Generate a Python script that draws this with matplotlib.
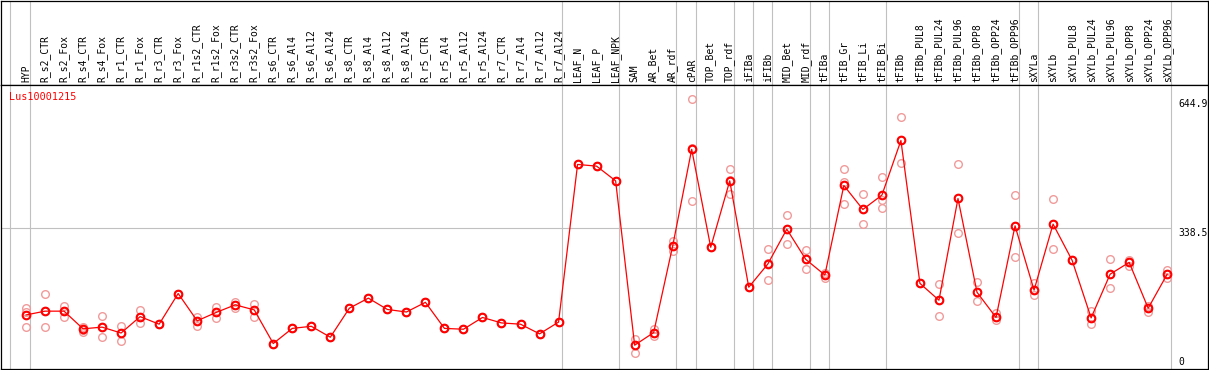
import matplotlib
matplotlib.use('Agg')
import matplotlib.pyplot as plt

# sample labels, left to right
labels = ['HYP', 'R_s2_CTR', 'R_s2_Fox', 'R_s4_CTR', 'R_s4_Fox', 'R_r1_CTR', 'R_r1_Fox',
          'R_r3_CTR', 'R_r3_Fox', 'R_r1s2_CTR', 'R_r1s2_Fox', 'R_r3s2_CTR', 'R_r3s2_Fox',
          'R_s6_CTR', 'R_s6_Al4', 'R_s6_Al12', 'R_s6_Al24', 'R_s8_CTR', 'R_s8_Al4',
          'R_s8_Al12', 'R_s8_Al24', 'R_r5_CTR', 'R_r5_Al4', 'R_r5_Al12', 'R_r5_Al24',
          'R_r7_CTR', 'R_r7_Al4', 'R_r7_Al12', 'R_r7_Al24', 'LEAF_N', 'LEAF_P', 'LEAF_NPK',
          'SAM', 'AR_Bet', 'AR_rdf', 'cPAR', 'TOP_Bet', 'TOP_rdf', 'iFIBa', 'iFIBb',
          'MID_Bet', 'MID_rdf', 'tFIBa', 'tFIB_Gr', 'tFIB_Li', 'tFIB_Bi', 'tFIBb',
          'tFIBb_PUL8', 'tFIBb_PUL24', 'tFIBb_PUL96', 'tFIBb_OPP8', 'tFIBb_OPP24',
          'tFIBb_OPP96', 'sXYLa', 'sXYLb', 'sXYLb_PUL8', 'sXYLb_PUL24', 'sXYLb_PUL96',
          'sXYLb_OPP8', 'sXYLb_OPP24', 'sXYLb_OPP96']

# mean expression per sample
means = [131, 140, 140, 98, 102, 88, 127, 109, 182, 117, 137, 155, 143,
         63, 99, 104, 78, 147, 171, 144, 138, 161, 99, 97, 125, 112, 109, 86, 114,
         489, 485, 450, 59, 89, 295, 525, 292, 450, 197, 252, 335, 263, 226,
         439, 382, 416, 546, 206, 166, 408, 185, 125, 343, 190, 347,
         261, 124, 228, 256, 147, 228]

# replicates
rep1 = [147, 181, 152, 103, 128, 104, 143, 109, 182, 127, 151, 162, 156,
        63, 99, 104, 78, 147, 171, 144, 138, 161, 99, 97, 125, 112, 109, 86, 114,
        489, 485, 450, 74, 97, 307, 644.9, 292, 477, 197, 289, 369, 285, 231,
        477, 418, 458, 601, 206, 205, 489, 209, 135, 416, 208, 407,
        261, 140, 263, 262, 153, 238]
rep2 = [137, 140, 140, 95, 102, 88, 127, 109, 182, 117, 137, 155, 143,
        63, 99, 104, 78, 147, 171, 144, 138, 161, 99, 97, 125, 112, 109, 86, 114,
        489, 485, 450, 59, 89, 295, 527, 292, 453, 197, 254, 335, 263, 226,
        448, 382, 404, 546, 206, 166, 409, 185, 125, 343, 190, 347,
        261, 124, 228, 256, 147, 228]
rep3 = [102, 102, 125, 90, 78, 68, 113, 109, 182, 105, 124, 148, 127,
        63, 99, 104, 78, 147, 171, 144, 138, 161, 99, 97, 125, 112, 109, 86, 114,
        489, 485, 450, 40, 81, 284, 401, 292, 418, 197, 213, 299, 240, 220,
        396, 347, 385, 492, 206, 128, 325, 164, 119, 269, 178, 287,
        261, 109, 194, 248, 139, 218]

group_ends = [0, 28, 31, 34, 35, 37, 38, 39, 41, 42, 45, 52, 53, 60]
gene = 'Lus10001215'
yticks = [0, 338.5, 644.9]

W, H = 1209, 370
fig = plt.figure(figsize=(W / 100, H / 100), dpi=100)
top_px = 85
# label strip on top, plot below
ax_lab = fig.add_axes([1 / W, (H - top_px) / H, 1207 / W, (top_px - 1) / H])
ax = fig.add_axes([1 / W, 1 / H, 1207 / W, (H - top_px - 1) / H])

x = list(range(len(labels)))
xl = ((1 - 26) / 19.02, (1208 - 26) / 19.02)
grey = '#c0c0c0'
vlines = [-0.84] + [g + 0.2 for g in group_ends]

for a in (ax_lab, ax):
    a.set_xlim(*xl)
    a.set_xticks([])
    a.set_yticks([])
    for s in a.spines.values():
        s.set_linewidth(0.9)
        s.set_color('black')
    for v in vlines:
        a.axvline(v, color=grey, lw=0.8, zorder=1)

ax_lab.set_ylim(0, 1)
for i, lab in enumerate(labels):
    ax_lab.text(i, 0.03, lab, rotation=90, ha='center', va='bottom',
                fontsize=7, family='DejaVu Sans Mono')

ax.set_ylim(2.4, 678)
ax.hlines(338.5, xl[0], vlines[-1], color=grey, lw=0.8, zorder=1)

for r in (rep1, rep2, rep3):
    ax.plot(x, r, 'o', ms=5.5, mfc='none', mec='#f09a9a', mew=1.0, zorder=2)
ax.plot(x, means, '-', color='red', lw=0.9, zorder=3)
ax.plot(x, means, 'o', ms=5.5, mfc='none', mec='red', mew=1.5, zorder=4)

# y labels sit inside the frame, right of the last group line
lx = (1178 - 26) / 19.02
ax.text(lx, yticks[2], '644.9', ha='left', va='top', fontsize=7, family='DejaVu Sans Mono')
ax.text(lx, yticks[1], '338.5', ha='left', va='top', fontsize=7, family='DejaVu Sans Mono')
ax.text(lx, 8, '0', ha='left', va='bottom', fontsize=7, family='DejaVu Sans Mono')

fig.text(9.5 / W, 1 - 96.7 / H, gene, color='red', ha='left', va='center',
         fontsize=7.3, family='DejaVu Sans Mono')

fig.savefig('out.png', dpi=100)
